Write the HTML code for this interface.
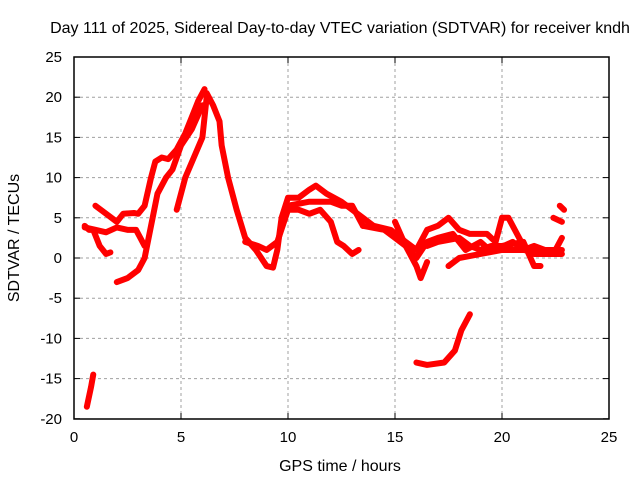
<!DOCTYPE html>
<html><head><meta charset="utf-8"><style>
body{margin:0;background:#fff}
svg{display:block;font-family:"Liberation Sans",sans-serif}
</style></head><body>
<svg id="chart" width="640" height="480">
<text x="340" y="33" text-anchor="middle" font-size="16">Day 111 of 2025, Sidereal Day-to-day VTEC variation (SDTVAR) for receiver kndh</text>
<text x="340" y="471" text-anchor="middle" font-size="16">GPS time / hours</text>
<text transform="translate(19,238) rotate(-90)" text-anchor="middle" font-size="16">SDTVAR / TECUs</text>
<g id="grid"></g>
<g id="ticks"></g>
<g id="series"></g>
<rect x="74" y="57" width="535" height="362" fill="none" stroke="#000" stroke-width="1.5"/>
</svg>
<script>
const xTicks=[0,5,10,15,20,25];
const yTicks=[25,20,15,10,5,0,-5,-10,-15,-20];
const tracks=[
[[0.5,4],[0.7,3.5],[0.9,3.5],[1.2,1.5],[1.5,0.5],[1.7,0.7]],
[[1,6.5],[1.5,5.5],[2,4.5],[2.3,5.5],[2.8,5.6],[3,5.5],[3.3,6.5],[3.6,10],[3.8,12],[4.1,12.5],[4.4,12.3],[4.8,13.5],[5.2,15.5],[5.5,17.5],[5.8,19.5],[6.1,21]],
[[0.5,3.8],[1,3.5],[1.5,3.2],[2,3.8],[2.5,3.5],[2.9,3.5],[3.1,2.5],[3.3,1.5]],
[[2,-3],[2.5,-2.5],[3,-1.5],[3.3,0],[3.6,4],[3.9,8],[4.3,10],[4.6,11],[5,14],[5.5,16],[6,19]],
[[4.8,6],[5.2,10],[5.6,12.5],[6,15],[6.2,20]],
[[6.2,20.5],[6.5,19],[6.8,17],[6.9,14],[7.2,10],[7.6,6],[8,2.5],[8.5,1],[9,-1],[9.3,-1.2],[9.5,1],[9.7,5],[10,7.5],[10.5,7.5],[11,8.5],[11.3,9],[11.8,8],[12.5,7],[13,6],[13.5,5],[14,4],[14.8,3.5],[15.5,2],[16,1],[16.5,3.5],[17,4],[17.5,5],[18,3.5],[18.5,3],[19.3,3],[19.7,2],[20,5],[20.3,5],[20.7,3],[21,1.5],[21.5,0.5],[22,0.5],[22.5,1],[22.8,2.5]],
[[8,2],[8.6,1.5],[9,1],[9.5,2],[10,6],[10.5,6],[11,5.5],[11.5,6],[12,4.5],[12.3,2],[12.6,1.5],[13,0.5],[13.3,1]],
[[10,6.5],[11,7],[12,7],[12.5,6.5],[13,6.5],[13.5,4]],
[[13.5,4],[14.5,3.5],[15,2.5],[15.5,1.5],[16,-1],[16.2,-2.5],[16.5,-0.5]],
[[16.5,1.5],[17,2],[18,2.5],[18.5,1.5],[19,1],[19.5,1.5],[20,1.5],[21,2],[21.5,-1],[21.8,-1]],
[[17.5,-1],[18,0],[19,0.5],[20,1],[21,1],[22,0.5],[22.8,0.5]],
[[15,4.5],[15.5,1.5],[16,0],[16.5,2],[17,2.5],[17.7,3],[18.3,1],[19,2],[19.5,0.8],[20.5,2],[21,1],[21.5,1.5],[22,1],[22.8,1]],
[[16,-13],[16.5,-13.3],[17.3,-13],[17.8,-11.5],[18.1,-9],[18.5,-7]],
[[0.6,-18.5],[0.8,-16],[0.9,-14.5]],
[[22.4,5],[22.8,4.5]],
[[22.7,6.5],[22.9,6]]
];
const X=v=>74+v*21.4, Y=v=>258-v*8.04;
const NS='http://www.w3.org/2000/svg';
const grid=document.getElementById('grid'),ticks=document.getElementById('ticks'),ser=document.getElementById('series');
function mk(tag,attrs,parent){const e=document.createElementNS(NS,tag);for(const k in attrs)e.setAttribute(k,attrs[k]);parent.appendChild(e);return e;}
xTicks.forEach(t=>{
 if(t>0&&t<25){const g=mk('line',{x1:X(t),x2:X(t),y1:57,y2:419,stroke:'#a0a0a0','stroke-dasharray':'3,3'},grid);
 
 }
 mk('line',{x1:X(t),x2:X(t),y1:419,y2:413,stroke:'#000'},ticks);
 mk('line',{x1:X(t),x2:X(t),y1:57,y2:63,stroke:'#000'},ticks);
 const l=mk('text',{x:X(t),y:442,'text-anchor':'middle','font-size':15},ticks);l.textContent=t;
 
 
});
yTicks.forEach(t=>{
 if(t<25&&t>-20){const g=mk('line',{x1:74,x2:609,y1:Y(t),y2:Y(t),stroke:'#a0a0a0','stroke-dasharray':'3,3'},grid);
 
 }
 mk('line',{x1:74,x2:80,y1:Y(t),y2:Y(t),stroke:'#000'},ticks);
 mk('line',{x1:603,x2:609,y1:Y(t),y2:Y(t),stroke:'#000'},ticks);
 const l=mk('text',{x:62,y:Y(t)+5,'text-anchor':'end','font-size':15},ticks);l.textContent=t;
 
 
});
tracks.forEach(tr=>{
 const p=mk('polyline',{points:tr.map(d=>X(d[0])+','+Y(d[1])).join(' '),fill:'none',stroke:'#ff0000','stroke-width':6,'stroke-linejoin':'round','stroke-linecap':'round'},ser);
 
 
});
</script>
</body></html>
